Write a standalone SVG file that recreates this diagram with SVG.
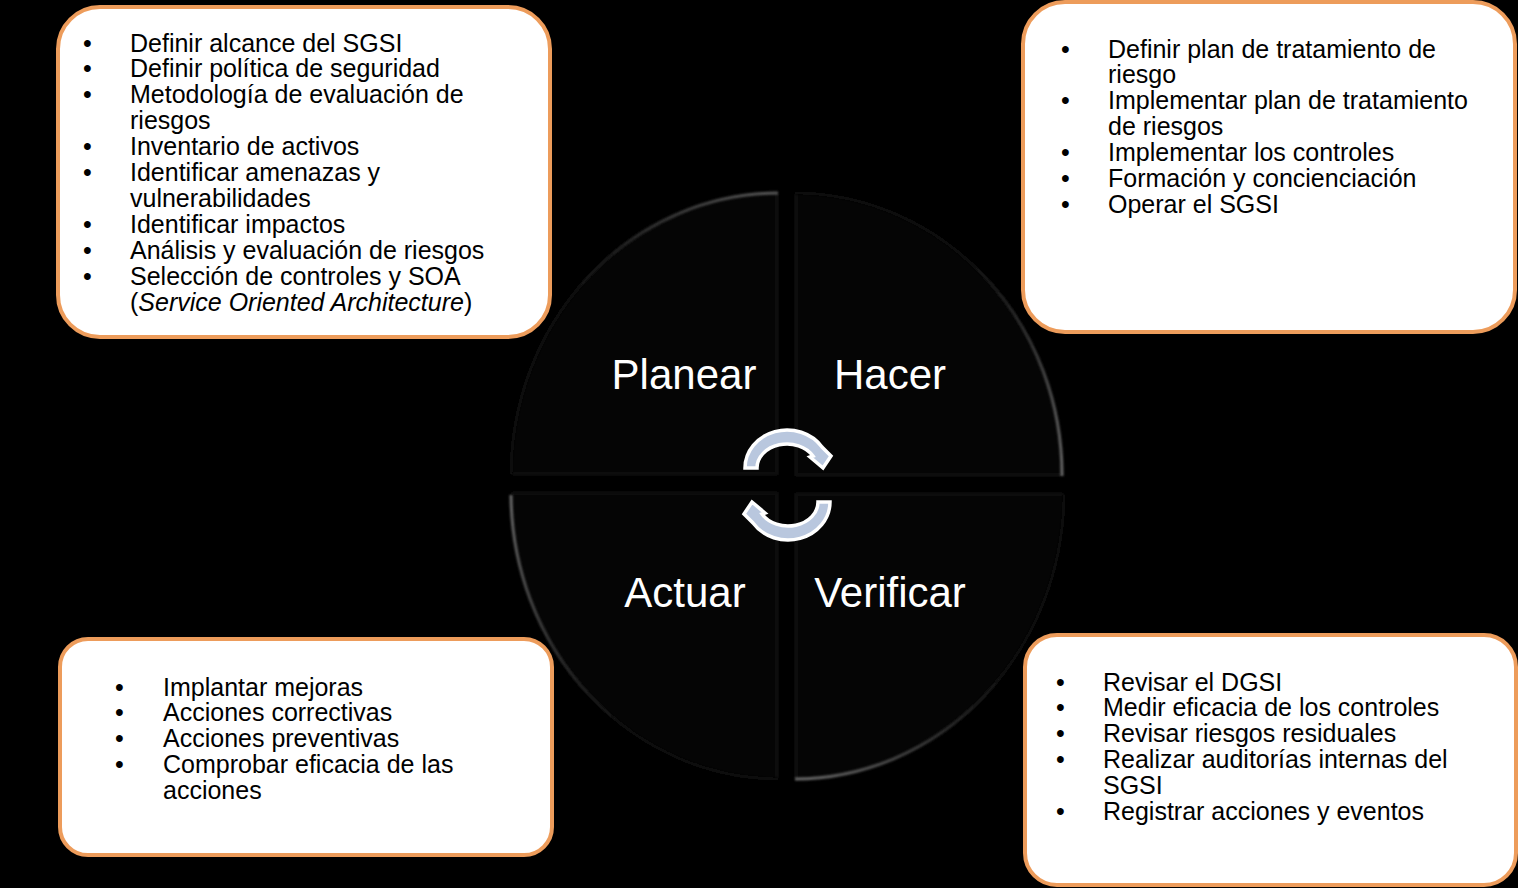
<svg xmlns="http://www.w3.org/2000/svg" width="1518" height="888" viewBox="0 0 1518 888">
<defs>
<style>
.box{fill:#fff;stroke:#ed9c5b;stroke-width:4}
.t{font-family:"Liberation Sans",Arial,sans-serif;font-size:25px;fill:#000}
.q{fill:#050505}
.edge{fill:none;stroke:#161616;stroke-width:2;filter:url(#soft)}
.rim{fill:none;stroke-width:3;filter:url(#soft)}
.l{font-family:"Liberation Sans",Arial,sans-serif;font-size:42px;fill:#fff;text-anchor:middle}
.aw{fill:#b9c7de;stroke:#fff;stroke-width:3.5;stroke-linejoin:miter}
</style>
<filter id="soft" x="-5%" y="-5%" width="110%" height="110%"><feGaussianBlur stdDeviation="1"/></filter>
<linearGradient id="gp" gradientUnits="userSpaceOnUse" x1="778" y1="192" x2="570" y2="300"><stop offset="0" stop-color="#5a5a5a"/><stop offset="1" stop-color="#0c0c0c"/></linearGradient>
<linearGradient id="gh" gradientUnits="userSpaceOnUse" x1="1063" y1="476" x2="950" y2="260"><stop offset="0" stop-color="#6a6a6a"/><stop offset="1" stop-color="#0a0a0a"/></linearGradient>
<linearGradient id="ga" gradientUnits="userSpaceOnUse" x1="510" y1="494" x2="640" y2="730"><stop offset="0" stop-color="#6a6a6a"/><stop offset="1" stop-color="#0a0a0a"/></linearGradient>
<linearGradient id="gv" gradientUnits="userSpaceOnUse" x1="795" y1="780" x2="1010" y2="660"><stop offset="0" stop-color="#6a6a6a"/><stop offset="1" stop-color="#0a0a0a"/></linearGradient>
</defs>
<rect width="1518" height="888" fill="#000"/>
<g id="quadrant-planear">
<path class="q" d="M778 192A268 282 0 0 0 510 474H778Z"/>
<path class="edge" d="M512 474H777V194"/>
<path class="rim" stroke="url(#gp)" d="M778 193A268 282 0 0 0 511 474"/>
<text class="l" x="684" y="389">Planear</text>
</g>
<g id="quadrant-hacer">
<path class="q" d="M795 192A268 282 0 0 1 1063 476H795Z"/>
<path class="edge" d="M796 194V475H1061"/>
<path class="rim" stroke="url(#gh)" d="M795 193A268 282 0 0 1 1062 476"/>
<text class="l" x="890" y="389">Hacer</text>
</g>
<g id="quadrant-actuar">
<path class="q" d="M778 494H510A268 286 0 0 0 778 780Z"/>
<path class="edge" d="M512 493H777V778"/>
<path class="rim" stroke="url(#ga)" d="M511 495A268 286 0 0 0 778 779"/>
<text class="l" x="685" y="607">Actuar</text>
</g>
<g id="quadrant-verificar">
<path class="q" d="M795 494H1065A270 286 0 0 1 795 780Z"/>
<path class="edge" d="M796 778V494H1063"/>
<path class="rim" stroke="url(#gv)" d="M1064 495A270 286 0 0 1 795 779"/>
<text class="l" x="890" y="607">Verificar</text>
</g>
<g id="connectors">
<path class="aw" d="M745 468A42 38 0 0 1 822 447L831 456L823 468L810 457L813 456A30 24 0 0 0 757 468Z"/>
<path class="aw" transform="rotate(180 787.5 485)" d="M745 468A42 38 0 0 1 822 447L831 456L823 468L810 457L813 456A30 24 0 0 0 757 468Z"/>
</g>
<g id="box-planear">
<rect class="box" x="58" y="7" width="492" height="330" rx="42"/>
<text class="t"><tspan x="83" y="52">•</tspan><tspan x="130" y="52">Definir alcance del SGSI</tspan>
<tspan x="83" y="77">•</tspan><tspan x="130" y="77">Definir política de seguridad</tspan>
<tspan x="83" y="103">•</tspan><tspan x="130" y="103">Metodología de evaluación de</tspan>
<tspan x="130" y="129">riesgos</tspan>
<tspan x="83" y="155">•</tspan><tspan x="130" y="155">Inventario de activos</tspan>
<tspan x="83" y="181">•</tspan><tspan x="130" y="181">Identificar amenazas y</tspan>
<tspan x="130" y="207">vulnerabilidades</tspan>
<tspan x="83" y="233">•</tspan><tspan x="130" y="233">Identificar impactos</tspan>
<tspan x="83" y="259">•</tspan><tspan x="130" y="259">Análisis y evaluación de riesgos</tspan>
<tspan x="83" y="285">•</tspan><tspan x="130" y="285">Selección de controles y SOA</tspan>
<tspan x="130" y="311">(<tspan font-style="italic">Service Oriented Architecture</tspan>)</tspan></text>
</g>
<g id="box-hacer">
<rect class="box" x="1023" y="2" width="492" height="330" rx="42"/>
<text class="t"><tspan x="1061" y="58">•</tspan><tspan x="1108" y="58">Definir plan de tratamiento de</tspan>
<tspan x="1108" y="83">riesgo</tspan>
<tspan x="1061" y="109">•</tspan><tspan x="1108" y="109">Implementar plan de tratamiento</tspan>
<tspan x="1108" y="135">de riesgos</tspan>
<tspan x="1061" y="161">•</tspan><tspan x="1108" y="161">Implementar los controles</tspan>
<tspan x="1061" y="187">•</tspan><tspan x="1108" y="187">Formación y concienciación</tspan>
<tspan x="1061" y="213">•</tspan><tspan x="1108" y="213">Operar el SGSI</tspan></text>
</g>
<g id="box-actuar">
<rect class="box" x="60" y="639" width="492" height="216" rx="28"/>
<text class="t"><tspan x="115" y="696">•</tspan><tspan x="163" y="696">Implantar mejoras</tspan>
<tspan x="115" y="721">•</tspan><tspan x="163" y="721">Acciones correctivas</tspan>
<tspan x="115" y="747">•</tspan><tspan x="163" y="747">Acciones preventivas</tspan>
<tspan x="115" y="773">•</tspan><tspan x="163" y="773">Comprobar eficacia de las</tspan>
<tspan x="163" y="799">acciones</tspan></text>
</g>
<g id="box-verificar">
<rect class="box" x="1025" y="635" width="491" height="250" rx="32"/>
<text class="t"><tspan x="1056" y="691">•</tspan><tspan x="1103" y="691">Revisar el DGSI</tspan>
<tspan x="1056" y="716">•</tspan><tspan x="1103" y="716">Medir eficacia de los controles</tspan>
<tspan x="1056" y="742">•</tspan><tspan x="1103" y="742">Revisar riesgos residuales</tspan>
<tspan x="1056" y="768">•</tspan><tspan x="1103" y="768">Realizar auditorías internas del</tspan>
<tspan x="1103" y="794">SGSI</tspan>
<tspan x="1056" y="820">•</tspan><tspan x="1103" y="820">Registrar acciones y eventos</tspan></text>
</g>
</svg>
